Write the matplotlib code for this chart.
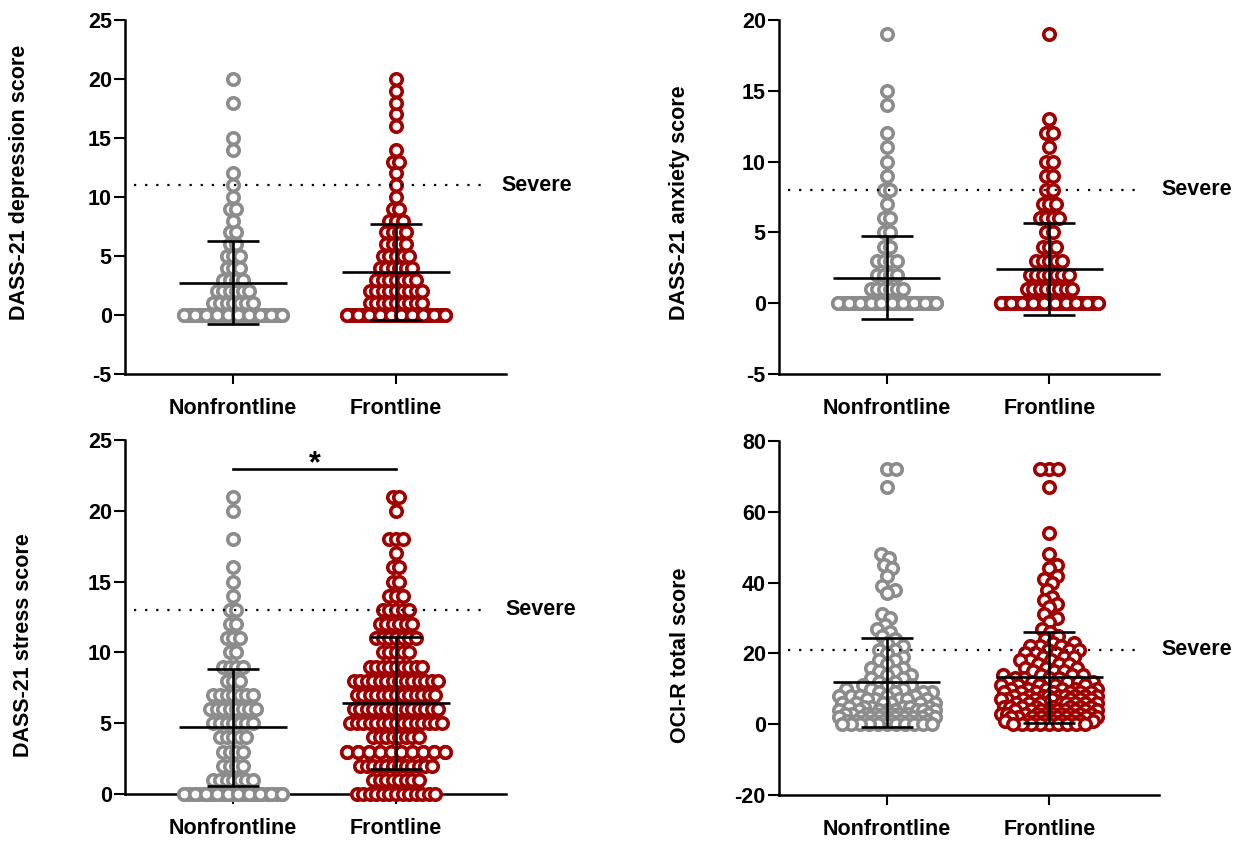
import numpy as np
import matplotlib
matplotlib.use("Agg")
import matplotlib.pyplot as plt

plt.rcParams["font.family"] = ["Liberation Sans", "DejaVu Sans"]
plt.rcParams["font.weight"] = "bold"
plt.rcParams["axes.unicode_minus"] = False

groups = ["Nonfrontline", "Frontline"]
colors = ["#8C8C8C", "#A00000"]

# DASS-21 depression: counts per score
dep_scores = np.arange(0, 21)
dep_nonfront = [40, 7, 6, 4, 3, 3, 2, 2, 1, 2, 1, 1, 1, 0, 1, 1, 0, 0, 1, 0, 1]
dep_front = [37, 9, 9, 7, 6, 5, 4, 4, 3, 2, 1, 1, 1, 2, 1, 0, 1, 1, 1, 1, 1]
dep_mean = [2.74, 3.64]
dep_sd = [3.50, 4.10]

# DASS-21 anxiety
anx_scores = np.arange(0, 20)
anx_nonfront = [58, 6, 4, 4, 2, 2, 2, 1, 2, 1, 1, 1, 1, 0, 1, 1, 0, 0, 0, 1]
anx_front = [51, 8, 7, 5, 3, 2, 4, 3, 2, 2, 2, 1, 2, 1, 0, 0, 0, 0, 0, 1]
anx_mean = [1.80, 2.40]
anx_sd = [2.95, 3.25]

# DASS-21 stress
str_scores = np.arange(0, 22)
str_nonfront = [31, 7, 4, 4, 5, 7, 8, 7, 3, 4, 2, 3, 2, 2, 1, 1, 1, 0, 1, 0, 1, 1]
str_front = [13, 8, 12, 20, 8, 15, 14, 13, 14, 9, 5, 7, 6, 5, 3, 2, 2, 1, 3, 0, 1, 2]
str_mean = [4.71, 6.43]
str_sd = [4.15, 4.65]

# OCI-R total score: individual values
oci_nonfront = [72, 72, 67, 48, 47, 45, 44, 42, 39, 38, 37, 31, 30, 28, 27, 26,
                25, 24, 23, 22, 21, 21, 20, 19, 18, 18, 17, 16, 16, 15, 15,
                14, 14, 13, 13, 12, 12, 11, 11, 11, 10, 10, 10,
                9, 9, 9, 9, 8, 8, 8, 8, 8, 7, 7, 7, 7, 7, 6, 6, 6, 6, 6, 6,
                5, 5, 5, 5, 5, 5, 4, 4, 4, 4, 4, 4, 4, 4,
                3, 3, 3, 3, 3, 3, 3, 3, 3, 2, 2, 2, 2, 2, 2, 2, 2, 2, 2,
                1, 1, 1, 1, 1, 1, 1, 1, 1, 1, 0, 0, 0, 0, 0, 0, 0, 0, 0, 0, 0]
oci_front = [72, 72, 72, 67, 54, 48, 45, 44, 42, 41, 40, 38, 36, 35, 34, 33, 31, 30, 29,
             27, 26, 25, 24, 23, 23, 22, 22, 22, 21, 21, 21, 20, 20, 20,
             19, 19, 19, 18, 18, 18, 17, 17, 17, 16, 16, 16, 15, 15, 15,
             14, 14, 14, 14, 13, 13, 13, 13, 12, 12, 12, 12, 12,
             11, 11, 11, 11, 11, 10, 10, 10, 10, 10, 10,
             9, 9, 9, 9, 9, 9, 9, 8, 8, 8, 8, 8, 8, 8, 8, 8,
             7, 7, 7, 7, 7, 7, 7, 7, 6, 6, 6, 6, 6, 6, 6, 6, 6,
             5, 5, 5, 5, 5, 5, 5, 5, 4, 4, 4, 4, 4, 4, 4, 4, 4,
             3, 3, 3, 3, 3, 3, 3, 3, 3, 3, 2, 2, 2, 2, 2, 2, 2, 2, 2, 2,
             1, 1, 1, 1, 1, 1, 1, 1, 1, 0, 0, 0, 0, 0, 0, 0, 0, 0]
oci_mean = [11.8, 13.2]
oci_sd = [12.5, 12.95]

severe_cutoffs = [11, 8, 13, 21]

W, H = 1242, 842
X_PX = 163.0  # pixels per category unit
XLIM = (-0.663, 1.675)


def row_offsets(scores, counts, step=0.04, half=0.3, top_n=10):
    """Spread tied scores along a row; crowded rows get an underlayer."""
    vals, offs = [], []
    max_n = int(round(2 * half / step)) + 1
    for s, n in zip(scores, counts):
        if n == 0:
            continue
        if n <= max_n:
            width = (n - 1) * step
            row = list(np.linspace(-width / 2, width / 2, n))
        else:
            # hidden points first, evenly spaced, then a visible top layer
            row = list(np.linspace(-half, half, n - top_n)) + list(np.linspace(-half, half, top_n))
        vals.extend([s] * n)
        offs.extend(row)
    return np.array(vals, float), np.array(offs)


def swarm_offsets(values, y_px, dmin=8.5, half=0.3):
    values = np.asarray(values, float)
    steps = np.arange(1, int(half * X_PX) + 1, dtype=float)
    cand = np.concatenate([[0.0], np.column_stack([steps, -steps]).ravel()])
    px, py = [], []
    out = np.zeros(len(values))
    for k in np.argsort(values, kind="stable"):
        y = values[k] * y_px
        if px:
            d = np.hypot(cand[:, None] - np.array(px)[None, :],
                         y - np.array(py)[None, :]).min(axis=1)
            ok = np.flatnonzero(d >= dmin)
            j = ok[0] if ok.size else int(np.argmax(d))
        else:
            j = 0
        px.append(cand[j])
        py.append(y)
        out[k] = cand[j] / X_PX
    return values, out


def style_axis(ax, ylim, yticks, ylabel, label_xy):
    ax.set_xlim(*XLIM)
    ax.set_ylim(*ylim)
    ax.set_yticks(yticks)
    ax.set_xticks([0, 1])
    ax.set_xticklabels(groups)
    for side in ["top", "right"]:
        ax.spines[side].set_visible(False)
    for side in ["left", "bottom"]:
        ax.spines[side].set_linewidth(1.8)
    ax.tick_params(axis="y", length=8, width=1.5, labelsize=15.5, pad=1.5)
    ax.tick_params(axis="x", length=7, width=1.5, labelsize=15.5, pad=10)
    ax.set_ylabel(ylabel, fontsize=15.5, fontweight="bold")
    ax.yaxis.set_label_coords(*label_xy)


def draw_points(ax, i, vals, offs):
    ax.scatter(i + offs, vals, s=68, facecolors="white", edgecolors=colors[i],
               linewidths=2.6, zorder=3, clip_on=False)


def draw_mean_sd(ax, means, sds):
    for i, (m, sd) in enumerate(zip(means, sds)):
        kw = dict(color="black", lw=1.9, zorder=4, solid_capstyle="butt", clip_on=False)
        ax.plot([i - 0.33, i + 0.33], [m, m], **kw)
        ax.plot([i, i], [m - sd, m + sd], **kw)
        ax.plot([i - 0.16, i + 0.16], [m + sd, m + sd], **kw)
        ax.plot([i - 0.16, i + 0.16], [m - sd, m - sd], **kw)


def draw_severe(ax, y, x_end, x_text):
    ax.plot([-0.61, x_end], [y, y], color="black", lw=1.6, linestyle=(0, (1, 4)), zorder=5)
    ax.text(x_text, y, "Severe", fontsize=15.5, fontweight="bold", ha="left",
            va="center", clip_on=False)


def add_ax(left, top, width, height):
    return fig.add_axes([left / W, 1 - (top + height) / H, width / W, height / H])


fig = plt.figure(figsize=(W / 100, H / 100), dpi=100)

# depression
ax1 = add_ax(125, 20, 381, 354)
style_axis(ax1, (-5, 25), range(-5, 26, 5), "DASS-21 depression score", (-0.249, 0.54))
for i, counts in enumerate([dep_nonfront, dep_front]):
    draw_points(ax1, i, *row_offsets(dep_scores, counts))
draw_mean_sd(ax1, dep_mean, dep_sd)
draw_severe(ax1, severe_cutoffs[0], 1.55, 1.65)

# anxiety
ax2 = add_ax(779, 20, 380, 354)
style_axis(ax2, (-5, 20), range(-5, 21, 5), "DASS-21 anxiety score", (-0.234, 0.483))
for i, counts in enumerate([anx_nonfront, anx_front]):
    draw_points(ax2, i, *row_offsets(anx_scores, counts))
draw_mean_sd(ax2, anx_mean, anx_sd)
draw_severe(ax2, severe_cutoffs[1], 1.57, 1.69)

# stress
ax3 = add_ax(125, 440, 381, 354)
style_axis(ax3, (0, 25), range(0, 26, 5), "DASS-21 stress score", (-0.239, 0.42))
for i, counts in enumerate([str_nonfront, str_front]):
    draw_points(ax3, i, *row_offsets(str_scores, counts))
draw_mean_sd(ax3, str_mean, str_sd)
draw_severe(ax3, severe_cutoffs[2], 1.57, 1.67)
ax3.plot([0, 1], [22.95, 22.95], color="black", lw=1.9, zorder=4, clip_on=False)
ax3.text(0.5, 22.25, "*", fontsize=22, fontweight="bold", ha="center", va="bottom")

# OCI-R
ax4 = add_ax(779, 441, 380, 354)
style_axis(ax4, (-20, 80), range(-20, 81, 20), "OCI-R total score", (-0.232, 0.395))
for i, vals in enumerate([oci_nonfront, oci_front]):
    draw_points(ax4, i, *swarm_offsets(vals, 354 / 100))
draw_mean_sd(ax4, oci_mean, oci_sd)
draw_severe(ax4, severe_cutoffs[3], 1.57, 1.69)

fig.savefig("out.png", dpi=100)
